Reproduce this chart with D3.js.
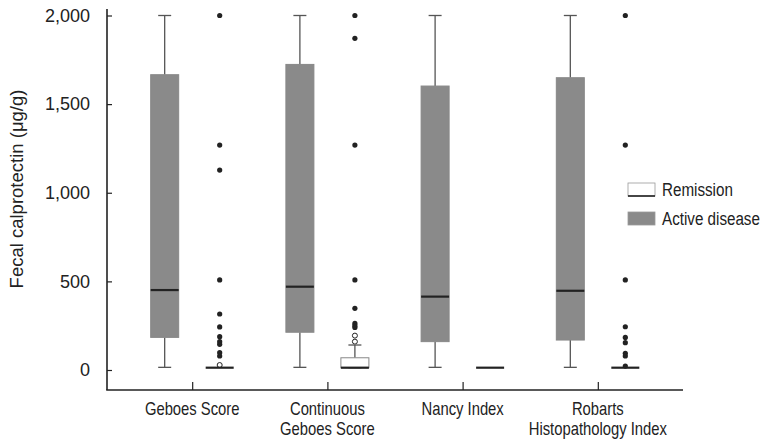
<!DOCTYPE html>
<html>
<head>
<meta charset="utf-8">
<script src="https://cdn.jsdelivr.net/npm/d3@7"></script>
<style>
  body { margin: 0; background: #fff; }
  svg { display: block; }
</style>
</head>
<body>
<div id="chart"></div>
<script>
var CONFIG = { width: 766, height: 441, narrow: 0.8 };

// categories and tick labels
var categories = ['Geboes Score', 'Continuous\nGeboes Score', 'Nancy Index', 'Robarts\nHistopathology Index'];
var yTicks = [0, 500, 1000, 1500, 2000];

// box statistics: [min, q1, median, q3, max]
var activeStats = [
	[15, 184, 451, 1666, 2000],
	[15, 213, 470, 1724, 2000],
	[15, 160, 414, 1602, 2000],
	[15, 169, 447, 1649, 2000]
];
var remissionStats = [
	[13, 13, 13, 13, 13],
	[13, 13, 13, 69, 141],
	[13, 13, 13, 13, 13],
	[13, 13, 13, 13, 13]
];

// outliers of the remission groups (filled = extreme, open = mild)
var remissionExtreme = [
	[2000, 1269, 1128, 508, 316, 243, 188, 160, 145, 98, 79],
	[2000, 1871, 1269, 508, 348, 263, 250, 240],
	[],
	[2000, 1269, 508, 244, 184, 154, 94, 79, 22]
];
var remissionMild = [
	[28],
	[194, 160],
	[],
	[]
];

var margin = { left: 107, right: 83, top: 9, bottom: 51 };

var svg = d3
	.select('#chart')
	.append('svg')
	.attr('width', CONFIG.width)
	.attr('height', CONFIG.height);

var x = d3
	.scalePoint()
	.domain(categories)
	.range([margin.left, CONFIG.width - margin.right])
	.padding(0.63);

var y = d3.scaleLinear().domain([0, 2000]).range([370, 15.5]);

var offset = 27.5;
var boxW = 28;
var capW = 13;

// y axis
var yAxis = svg
	.append('g')
	.attr('transform', 'translate(' + margin.left + ',0)')
	.call(d3.axisLeft(y).tickValues(yTicks).tickSize(-5).tickPadding(17).tickFormat(d3.format(',')));
yAxis.select('.domain').remove();
yAxis.selectAll('line').attr('stroke', '#222').attr('stroke-width', 1.2);
yAxis
	.selectAll('text')
	.attr('font-family', 'Liberation Sans, Arial, sans-serif')
	.attr('font-size', 18)
	.attr('fill', '#222');

// x axis
var bottom = CONFIG.height - margin.bottom;
var xAxis = svg
	.append('g')
	.attr('transform', 'translate(0,' + bottom + ')')
	.call(d3.axisBottom(x).tickSize(-8).tickFormat(''));
xAxis.select('.domain').remove();
xAxis.selectAll('line').attr('stroke', '#222').attr('stroke-width', 1.2);

// axis frame lines
svg
	.append('line')
	.attr('x1', margin.left)
	.attr('x2', margin.left)
	.attr('y1', margin.top)
	.attr('y2', bottom)
	.attr('stroke', '#222')
	.attr('stroke-width', 1.6);
svg
	.append('line')
	.attr('x1', margin.left - 0.8)
	.attr('x2', CONFIG.width - margin.right)
	.attr('y1', bottom)
	.attr('y2', bottom)
	.attr('stroke', '#222')
	.attr('stroke-width', 1.6);

// category labels (condensed by a horizontal scale)
var labels = svg
	.append('g')
	.selectAll('text')
	.data(categories)
	.join('text')
	.attr('transform', (d) => 'translate(' + x(d) + ',415) scale(' + CONFIG.narrow + ',1)')
	.attr('text-anchor', 'middle')
	.attr('font-family', 'Liberation Sans, Arial, sans-serif')
	.attr('font-size', 18.5)
	.attr('fill', '#222');
labels
	.selectAll('tspan')
	.data((d) => d.split('\n'))
	.join('tspan')
	.attr('x', 0)
	.attr('dy', (d, i) => (i === 0 ? 0 : 20.5))
	.text((d) => d);

// y axis title
svg
	.append('text')
	.attr('transform', 'translate(23,189) rotate(-90)')
	.attr('text-anchor', 'middle')
	.attr('font-family', 'Liberation Sans, Arial, sans-serif')
	.attr('font-size', 18.5)
	.attr('fill', '#222')
	.text('Fecal calprotectin (\u03bcg/g)');

var drawBox = (cx, s, fill) => {
	var g = svg.append('g');
	// whiskers
	g
		.append('line')
		.attr('x1', cx)
		.attr('x2', cx)
		.attr('y1', y(s[3]))
		.attr('y2', y(s[4]))
		.attr('stroke', '#555')
		.attr('stroke-width', 1.3);
	g
		.append('line')
		.attr('x1', cx)
		.attr('x2', cx)
		.attr('y1', y(s[1]))
		.attr('y2', y(s[0]))
		.attr('stroke', '#555')
		.attr('stroke-width', 1.3);
	[s[0], s[4]].forEach((v) => {
		if (s[4] - s[0] < 1) return;
		g
			.append('line')
			.attr('x1', cx - capW / 2)
			.attr('x2', cx + capW / 2)
			.attr('y1', y(v))
			.attr('y2', y(v))
			.attr('stroke', '#555')
			.attr('stroke-width', 1.3);
	});
	g
		.append('rect')
		.attr('x', cx - boxW / 2)
		.attr('y', y(s[3]))
		.attr('width', boxW)
		.attr('height', Math.max(y(s[1]) - y(s[3]), 0))
		.attr('fill', fill)
		.attr('stroke', '#888')
		.attr('stroke-width', 1);
	g
		.append('line')
		.attr('x1', cx - boxW / 2)
		.attr('x2', cx + boxW / 2)
		.attr('y1', y(s[2]))
		.attr('y2', y(s[2]))
		.attr('stroke', '#222')
		.attr('stroke-width', 2.2);
};

categories.forEach((c, i) => {
	drawBox(x(c) - offset, activeStats[i], '#8a8a8a');
	var cx = x(c) + offset;
	remissionMild[i].forEach((v) => {
		svg
			.append('circle')
			.attr('cx', cx)
			.attr('cy', y(v))
			.attr('r', 2.5)
			.attr('fill', '#fff')
			.attr('stroke', '#222')
			.attr('stroke-width', 1);
	});
	drawBox(cx, remissionStats[i], '#fff');
	remissionExtreme[i].forEach((v) => {
		svg
			.append('circle')
			.attr('cx', cx)
			.attr('cy', y(v))
			.attr('r', 2.6)
			.attr('fill', '#222');
	});
});

// legend
var legend = [
	{ name: 'Remission', fill: '#fff' },
	{ name: 'Active disease', fill: '#8a8a8a' }
];
var lg = svg.append('g').attr('transform', 'translate(628,183)');
lg
	.selectAll('rect')
	.data(legend)
	.join('rect')
	.attr('x', 0)
	.attr('y', (d, i) => i * 29)
	.attr('width', 27)
	.attr('height', 13)
	.attr('fill', (d) => d.fill)
	.attr('stroke', '#999')
	.attr('stroke-width', 0.8);
lg
	.append('line')
	.attr('x1', 0)
	.attr('x2', 27)
	.attr('y1', 13)
	.attr('y2', 13)
	.attr('stroke', '#222')
	.attr('stroke-width', 1.6);
lg
	.selectAll('text')
	.data(legend)
	.join('text')
	.attr('transform', (d, i) => 'translate(34,' + (i * 29 + 13) + ') scale(' + CONFIG.narrow + ',1)')
	.attr('font-family', 'Liberation Sans, Arial, sans-serif')
	.attr('font-size', 19)
	.attr('fill', '#222')
	.text((d) => d.name);
</script>
</body>
</html>
